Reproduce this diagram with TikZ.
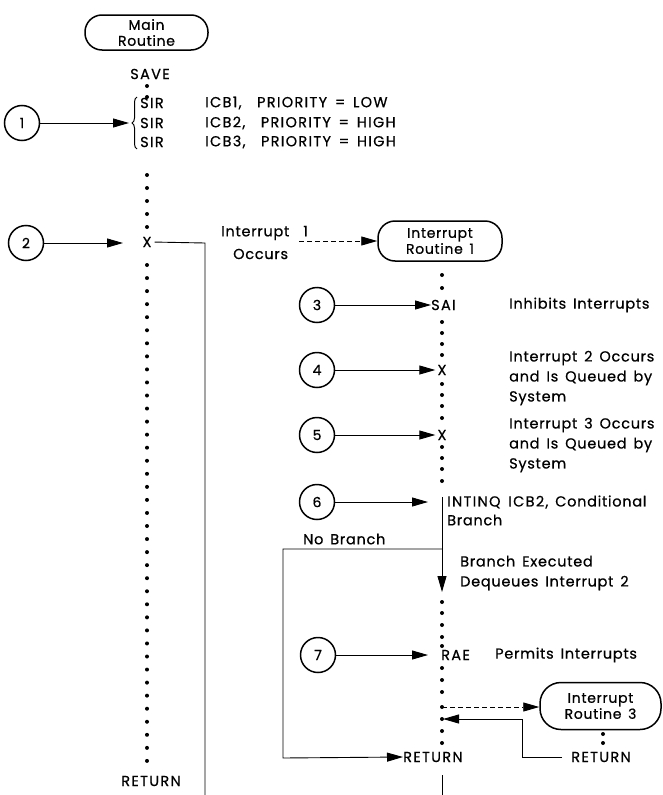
\documentclass[tikz,border=0pt]{standalone}
\usepackage{fontspec}
\setmainfont{Poppins}[FakeBold=0.6, LetterSpace=5, WordSpace=1.5]
\usetikzlibrary{arrows.meta,decorations.pathreplacing}
\newcommand\capsp{\addfontfeature{LetterSpace=9}}
\begin{document}
\begin{tikzpicture}[x=1pt,y=-1pt,
  txt/.style={font=\fontsize{14.5}{20}\selectfont, inner sep=0pt, align=left},
  num/.style={circle, draw, line width=1.5pt, minimum size=35pt, inner sep=0pt, font=\fontsize{14}{14}\selectfont},
  routine/.style={draw, line width=1.5pt, rounded corners=17pt, minimum width=123pt, minimum height=38pt, align=center, inner sep=0pt, font=\fontsize{14}{16}\selectfont},
  arr/.style={line width=0.9pt, -{Triangle[length=16pt,width=9pt]}},
  dasharr/.style={line width=0.9pt, dash pattern=on 5pt off 3pt, -{Triangle[length=16pt,width=9pt]}},
  ln/.style={line width=0.9pt},
  dot/.style={circle, fill, inner sep=0pt, minimum size=4pt}]
\useasboundingbox[fill=white] (0,0) rectangle (662,795);

% ---------- main routine ----------
\node[routine, minimum width=123pt, minimum height=35pt] (main) at (146.5,32.5) {Main\\Routine};
\node[txt] (save) at (150,74) {\capsp SAVE};
\foreach \y in {86,97,175,188,201,214,227} \node[dot] at (147,\y) {};
\foreach \i in {0,...,38} \node[dot] at (147,265+\i*13.05) {};
\node[txt] (mret) at (151,781) {\capsp RETURN};

% brace and SIR lines
\draw[line width=1pt, decorate, decoration={brace, amplitude=5pt}] (137,149) -- (137,97);
\coordinate (bracetip) at (129,123);
\node[txt, anchor=west] (sir1) at (140,103) {\capsp SIR};
\node[txt, anchor=west] (sir2) at (140,123) {\capsp SIR};
\node[txt, anchor=west] (sir3) at (140,142) {\capsp SIR};
\node[txt, anchor=west] (icb1) at (205,103) {\capsp ICB1,\ \ PRIORITY = LOW};
\node[txt, anchor=west] (icb2) at (205,123) {\capsp ICB2,\ \ PRIORITY = HIGH};
\node[txt, anchor=west] (icb3) at (205,142) {\capsp ICB3,\ \ PRIORITY = HIGH};
\node[num] (n1) at (22,123) {1};
\draw[arr] (n1) -- (bracetip);

% interrupt 1 occurs
\node[num] (n2) at (26,243) {2};
\node[txt] (x2) at (147,242) {X};
\coordinate (t2) at (123,243);
\draw[arr] (n2) -- (t2);
\coordinate (jog2) at (205,243);
\coordinate (bot2) at (205,795);
\draw[ln, shorten <=3pt] (x2.east) -- (jog2) -- (bot2);
\node[txt, anchor=west] (intlbl) at (221,233) {Interrupt\hspace{14pt}1};
\node[txt, anchor=west] (occlbl) at (233,254) {Occurs};
\coordinate (d1) at (299,241);

% ---------- interrupt routine 1 ----------
\node[routine, minimum width=124pt, minimum height=40pt] (ir1) at (440,241) {Interrupt\\Routine 1};
\draw[dasharr] (d1) -- (ir1.west);
\foreach \y in {275,288,322,333,344,355,384,395,406,418,447,458,469,481,602,613,625,637,646,668,680,692,707,719,731,743} \node[dot] at (442,\y) {};

\node[num] (n3) at (317,305) {3};
\node[txt, anchor=west] (sai) at (431,305) {\capsp SAI};
\draw[arr] (n3) -- (sai.west);
\node[txt, anchor=west] (inh) at (509,305) {Inhibits Interrupts};

\node[num] (n4) at (317,370) {4};
\node[txt] (x4) at (442,370) {X};
\draw[arr, shorten >=2pt] (n4) -- (x4.west);
\node[txt, anchor=west] (q2) at (509,378) {Interrupt 2 Occurs\\and Is Queued by\\System};

\node[num] (n5) at (317,435) {5};
\node[txt] (x5) at (442,435) {X};
\draw[arr, shorten >=2pt] (n5) -- (x5.west);
\node[txt, anchor=west] (q3) at (509,445) {Interrupt 3 Occurs\\and Is Queued by\\System};

\node[num] (n6) at (317,502) {6};
\node[txt, anchor=west] (intinq) at (447,502) {{\capsp INTINQ ICB2,} Conditional};
\node[txt, anchor=west] (brlbl) at (447,520) {Branch};
\coordinate (t6) at (428,502);
\draw[arr] (n6) -- (t6);
\coordinate (brtop) at (442,497);
\coordinate (brsplit) at (442,549);
\coordinate (brend) at (442,592);
\draw[arr] (brtop) -- (brend);
\node[txt, anchor=west] (nobr) at (303,539) {No Branch};
\node[txt, anchor=west] (brex) at (460,573) {Branch Executed\\Dequeues Interrupt 2};
\coordinate (nbl) at (283,549);
\coordinate (nbb) at (283,758);

\node[num] (n7) at (318,655) {7};
\node[txt, anchor=west] (rae) at (441,655) {\capsp RAE};
\coordinate (t7) at (428,655);
\draw[arr] (n7) -- (t7);
\node[txt, anchor=west] (perm) at (495,655) {Permits Interrupts};

\node[txt, anchor=west] (ret1) at (403,757) {\capsp RETURN};
\draw[arr] (brsplit) -- (nbl) -- (nbb) -- (ret1.west);
\coordinate (rb1) at (442,775);
\coordinate (rb2) at (442,795);
\draw[ln] (rb1) -- (rb2);

% ---------- interrupt routine 3 ----------
\node[routine, minimum width=121pt, minimum height=47pt, rounded corners=21pt] (ir3) at (600.5,706) {Interrupt\\Routine 3};
\coordinate (d3) at (442,707);
\draw[dasharr] (d3) -- (d3 -| ir3.west);
\foreach \y in {734,743} \node[dot] at (603,\y) {};
\node[txt] (ret3) at (601,757) {\capsp RETURN};
\coordinate (r3a) at (522,757);
\coordinate (r3b) at (522,719);
\coordinate (r3c) at (443,719);
\draw[arr, shorten <=9pt] (ret3.west) -- (r3a) -- (r3b) -- (r3c);
\end{tikzpicture}
\end{document}
